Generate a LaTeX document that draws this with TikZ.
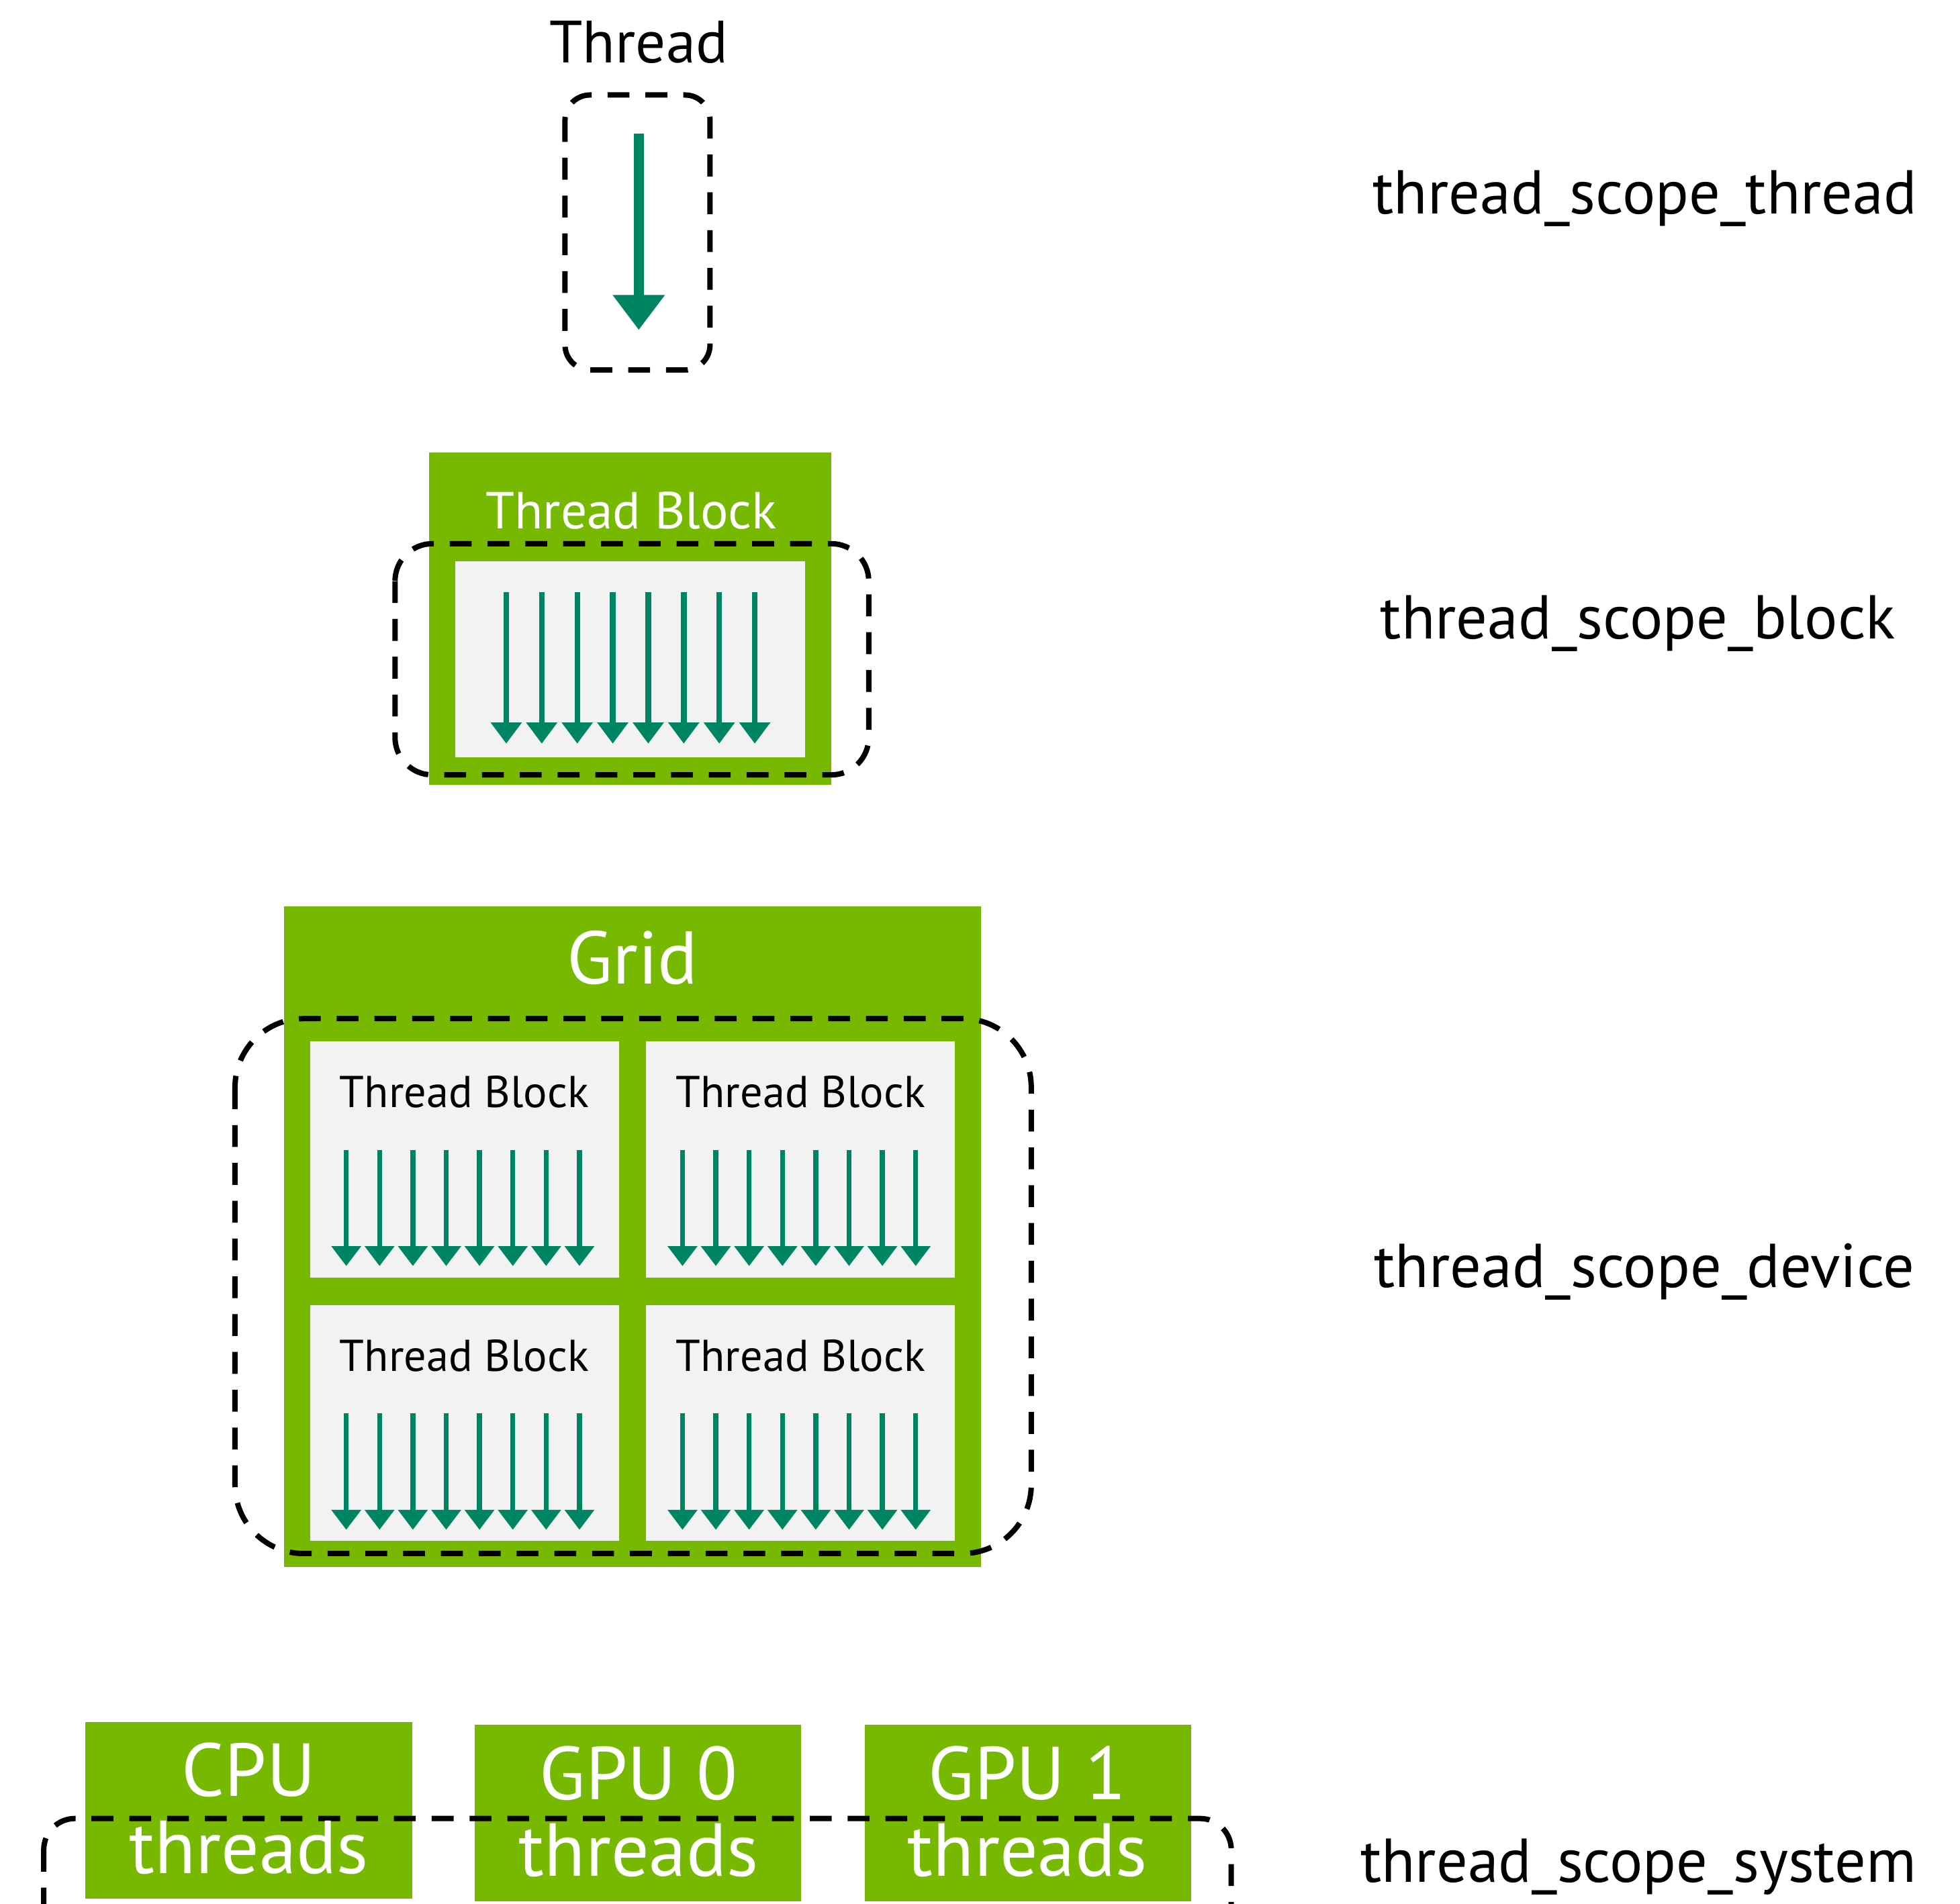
\documentclass[tikz,border=0pt]{standalone}
\usepackage{fontspec}
\setmainfont{PT Sans}
\usetikzlibrary{arrows.meta}

\definecolor{nvgreen}{RGB}{118,185,0}
\definecolor{panelgrey}{RGB}{242,242,242}
\definecolor{threadteal}{RGB}{0,133,100}

\begin{document}
\begin{tikzpicture}[
  x=0.02cm, y=-0.02cm,
  scopebox/.style={draw=black, line width=0.086cm, dash pattern=on 0.35cm off 0.255cm},
  greenbox/.style={fill=nvgreen},
  panelbox/.style={fill=panelgrey},
  bigthread/.style={draw=threadteal, line width=0.16cm,
    -{Triangle[length=0.56cm,width=0.8cm]}},
  blockthread/.style={draw=threadteal, line width=0.09cm,
    -{Triangle[length=0.34cm,width=0.48cm]}},
  gridthread/.style={draw=threadteal, line width=0.08cm,
    -{Triangle[length=0.32cm,width=0.46cm]}},
  scopelabel/.style={anchor=base west, inner sep=0pt, font=\fontsize{28.2}{32}\selectfont},
  title/.style={anchor=base, inner sep=0pt}
]
\useasboundingbox (0,0) rectangle (1568,1523);
\clip (0,0) rectangle (1568,1523);

% ---- single thread ----
\node[title, font=\fontsize{27.2}{30}\selectfont] (threadlbl) at (511,50) {Thread};
\draw[bigthread] (511,107) -- (511,264);
\draw[scopebox, rounded corners=0.4cm] (452,76) rectangle (568,296);
\node[scopelabel] (sthread) at (1098,171) {thread\_scope\_thread};

% ---- thread block ----
\fill[greenbox] (343,362) rectangle (665,628);
\fill[panelbox] (364,449) rectangle (644,606);
\node[title, text=white, font=\fontsize{23.7}{28}\selectfont] (blocklbl) at (505,423) {Thread Block};
\foreach \i in {0,...,7}
  \draw[blockthread] ({405+28.4*\i},474) -- ({405+28.4*\i},595);
\draw[scopebox, rounded corners=0.6cm] (316,435) rectangle (695,620);
\node[scopelabel] (sblock) at (1104,511) {thread\_scope\_block};

% ---- grid ----
\fill[greenbox] (227,725) rectangle (785,1254);
\node[title, text=white, font=\fontsize{34}{40}\selectfont] (gridlbl) at (506,787) {Grid};
\foreach \px/\py [count=\k] in {248/833, 517/833, 248/1044, 517/1044} {
  \fill[panelbox] (\px,\py) rectangle ({\px+247},{\py+189});
  \node[title, font=\fontsize{20.3}{24}\selectfont] (gblock\k) at ({\px+123.5},{\py+53}) {Thread Block};
  \foreach \i in {0,...,7}
    \draw[gridthread] ({\px+29+26.65*\i},{\py+87}) -- ({\px+29+26.65*\i},{\py+180});
}
\draw[scopebox, rounded corners=1.1cm] (188,815) rectangle (825,1243);
\node[scopelabel] (sdevice) at (1099,1030) {thread\_scope\_device};

% ---- system ----
\fill[greenbox] (68,1378) rectangle (330,1519);
\fill[greenbox] (380,1380) rectangle (641,1521);
\fill[greenbox] (692,1380) rectangle (953,1521);
\draw[scopebox, rounded corners=0.5cm] (35,1455) rectangle (985,1620);
\begin{scope}[every node/.style={title, text=white, font=\fontsize{34.2}{38}\selectfont}]
  \node (cpu) at (199,1437) {CPU};
  \node (cputh) at (199,1499) {threads};
  \node (gpu0) at (511,1440) {GPU 0};
  \node (gpu0th) at (511,1501) {threads};
  \node (gpu1) at (822,1440) {GPU 1};
  \node (gpu1th) at (822,1501) {threads};
\end{scope}
\node[scopelabel] (ssystem) at (1088,1506) {thread\_scope\_system};
\end{tikzpicture}
\end{document}
